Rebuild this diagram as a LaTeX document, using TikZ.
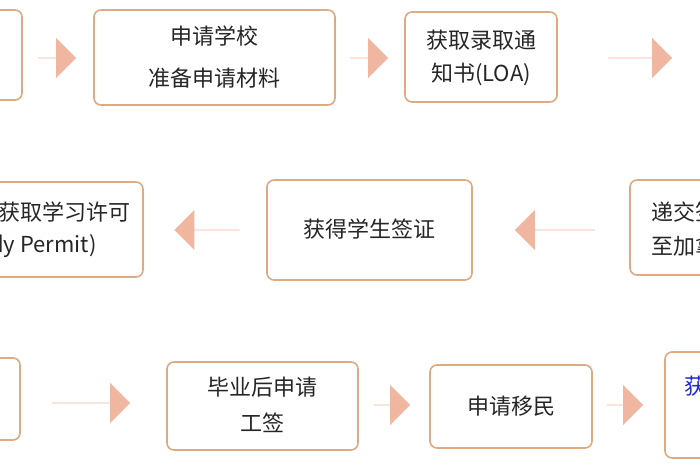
\documentclass[tikz,border=0pt]{standalone}
\usepackage{fontspec}
\newfontfamily\cjk{Noto Sans CJK SC}
\usetikzlibrary{shapes.arrows}
\definecolor{bd}{RGB}{222,170,130}
\definecolor{ar}{RGB}{240,182,160}
\definecolor{bl}{RGB}{30,40,200}
\tikzset{x=1pt,y=-1pt,
 box/.style={draw=bd,line width=1.6pt,rounded corners=7pt,fill=white},
 txt/.style={font=\cjk\fontsize{22}{26}\selectfont,text=black!85},
 arr/.style={single arrow,fill=ar,draw=none,minimum height=#1,minimum width=40pt,single arrow head extend=9pt,single arrow tip angle=90,inner sep=0pt}}
\begin{document}
\begin{tikzpicture}
\useasboundingbox (0,0) rectangle (700,470);
\clip (0,0) rectangle (700,470);
% row 1
\draw[box] (-150,10) rectangle (22,100);
\draw[box] (94,10) rectangle (335,105);
\node[txt] (t1a) at (214.5,36) {申请学校};
\node[txt] (t1b) at (214.5,78) {准备申请材料};
\draw[box] (405,12) rectangle (557,102);
\node[txt] (t2a) at (481,40) {获取录取通};
\node[txt] (t2b) at (481,74) {知书(LOA)};
\node[arr=38pt] (a1) at (57,58) {};
\node[arr=38pt] (a2) at (369,58) {};
\node[arr=64pt] (a3) at (640,58) {};
% row 2
\draw[box] (-150,182) rectangle (143,277);
\node[txt,anchor=east] (t3a) at (134,212) {获取学习许可};
\node[txt,anchor=east] (t3b) at (100,246) {(Study Permit)};
\draw[box] (267,180) rectangle (472,280);
\node[txt] (t4) at (369.5,229) {获得学生签证};
\draw[box] (630,180) rectangle (850,275);
\node[txt,anchor=west] (t5a) at (648,212) {递交签证申请};
\node[txt,anchor=west] (t5b) at (648,246) {至加拿大使馆};
\node[arr=65pt,shape border rotate=180] (a4) at (207,230) {};
\node[arr=80pt,shape border rotate=180] (a5) at (555,230) {};
% row 3
\draw[box] (-150,358) rectangle (20,440);
\node[arr=78pt] (a6) at (91,403) {};
\draw[box] (167,362) rectangle (358,450);
\node[txt] (t6a) at (262.5,387) {毕业后申请};
\node[txt] (t6b) at (262.5,423) {工签};
\node[arr=36pt] (a7) at (392,405) {};
\draw[box] (430,365) rectangle (592,448);
\node[txt] (t7) at (511,406) {申请移民};
\node[arr=36pt] (a8) at (625,405) {};
\draw[box] (665,352) rectangle (850,458);
\node[txt,anchor=west,text=bl] (t8) at (681,386) {获得永久居留};
\end{tikzpicture}
\end{document}
